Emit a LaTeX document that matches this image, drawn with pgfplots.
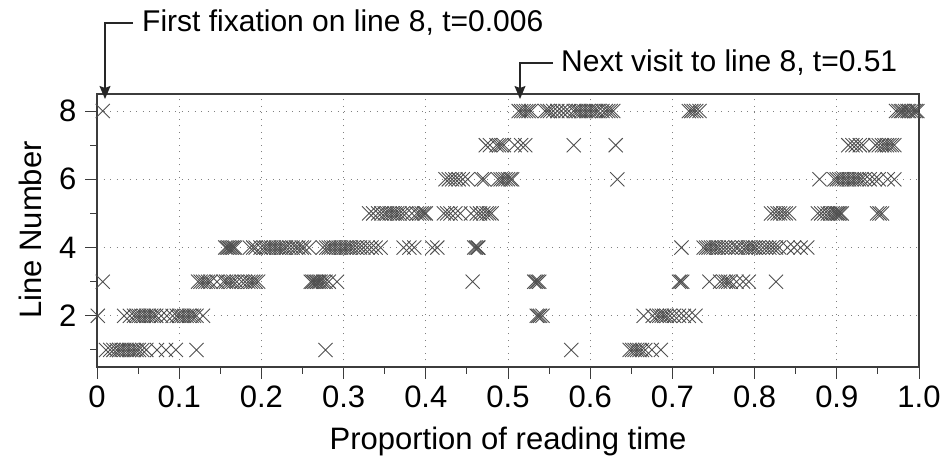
\documentclass[border=0pt]{standalone}
\usepackage{pgfplots}
\pgfplotsset{compat=1.18}
\usepackage{fontspec}
\setmainfont{Liberation Sans}
\usetikzlibrary{arrows.meta}
\definecolor{markgray}{RGB}{80,80,80}
\definecolor{axgray}{RGB}{60,60,60}
\begin{document}
\begin{tikzpicture}[x=1pt,y=1pt]
\begin{axis}[
  scale only axis,
  width=822pt, height=273pt,
  at={(97pt,99pt)}, anchor=south west,
  xmin=0, xmax=1, ymin=0.5, ymax=8.5,
  xtick={0,0.1,0.2,0.3,0.4,0.5,0.6,0.7,0.8,0.9,1.0},
  xticklabels={0,0.1,0.2,0.3,0.4,0.5,0.6,0.7,0.8,0.9,1.0},
  minor xtick={0.05,0.15,0.25,0.35,0.45,0.55,0.65,0.75,0.85,0.95},
  ytick={2,4,6,8},
  yticklabels={2,4,6,8},
  minor ytick={1,3,5,7},
  tick pos=left,
  tick align=outside,
  major tick length=12pt,
  minor tick length=7pt,
  every tick/.style={axgray, line width=1pt},
  xmajorgrids, ymajorgrids,
  major grid style={gray, line width=1pt, dash pattern=on 1pt off 5.5pt},
  axis line style={axgray, line width=1.2pt},
  ticklabel style={font=\fontsize{31}{35}\selectfont},
  xticklabel style={yshift=-3pt},
  yticklabel style={xshift=-5pt},
  clip=false,
]
\addplot[only marks, mark=x, mark size=10pt, color=markgray, mark options={line width=0.9pt}] table[row sep=\\] {
x y\\
0.007 8\\
0.513 8\\ 0.516 8\\ 0.519 8\\ 0.522 8\\ 0.525 8\\ 0.528 8\\ 0.545 8\\ 0.548 8\\ 0.551 8\\ 0.555 8\\ 0.560 8\\ 0.565 8\\ 0.570 8\\ 0.574 8\\ 0.580 8\\ 0.583 8\\ 0.586 8\\ 0.589 8\\ 0.592 8\\ 0.595 8\\ 0.598 8\\ 0.601 8\\ 0.604 8\\ 0.607 8\\ 0.610 8\\ 0.615 8\\ 0.619 8\\ 0.622 8\\ 0.625 8\\ 0.628 8\\
0.720 8\\ 0.723 8\\ 0.726 8\\ 0.729 8\\ 0.733 8\\
0.972 8\\ 0.975 8\\ 0.978 8\\ 0.980 8\\ 0.983 8\\ 0.986 8\\ 0.988 8\\ 0.991 8\\ 0.994 8\\ 0.996 8\\ 0.998 8\\
0.473 7\\ 0.478 7\\ 0.486 7\\ 0.489 7\\ 0.492 7\\ 0.495 7\\ 0.508 7\\ 0.516 7\\ 0.521 7\\
0.580 7\\ 0.631 7\\
0.914 7\\ 0.919 7\\ 0.923 7\\ 0.928 7\\ 0.932 7\\ 0.947 7\\ 0.951 7\\ 0.955 7\\ 0.958 7\\ 0.961 7\\ 0.964 7\\ 0.967 7\\ 0.970 7\\
0.424 6\\ 0.428 6\\ 0.432 6\\ 0.436 6\\ 0.440 6\\ 0.445 6\\ 0.451 6\\ 0.468 6\\ 0.471 6\\ 0.488 6\\ 0.491 6\\ 0.494 6\\ 0.497 6\\ 0.500 6\\ 0.503 6\\ 0.505 6\\
0.633 6\\
0.879 6\\ 0.897 6\\ 0.900 6\\ 0.903 6\\ 0.906 6\\ 0.909 6\\ 0.912 6\\ 0.915 6\\ 0.918 6\\ 0.921 6\\ 0.924 6\\ 0.927 6\\ 0.930 6\\ 0.934 6\\ 0.940 6\\ 0.946 6\\ 0.951 6\\ 0.962 6\\ 0.970 6\\
0.331 5\\ 0.336 5\\ 0.342 5\\ 0.346 5\\ 0.350 5\\ 0.353 5\\ 0.356 5\\ 0.359 5\\ 0.362 5\\ 0.365 5\\ 0.368 5\\ 0.372 5\\ 0.376 5\\ 0.383 5\\ 0.389 5\\ 0.392 5\\ 0.395 5\\ 0.398 5\\ 0.400 5\\
0.422 5\\ 0.426 5\\ 0.430 5\\ 0.436 5\\ 0.442 5\\ 0.455 5\\ 0.462 5\\ 0.466 5\\ 0.470 5\\ 0.474 5\\ 0.477 5\\ 0.480 5\\
0.820 5\\ 0.824 5\\ 0.828 5\\ 0.831 5\\ 0.835 5\\ 0.838 5\\ 0.842 5\\
0.877 5\\ 0.881 5\\ 0.885 5\\ 0.889 5\\ 0.892 5\\ 0.895 5\\ 0.898 5\\ 0.900 5\\ 0.902 5\\ 0.904 5\\ 0.906 5\\
0.949 5\\ 0.952 5\\ 0.955 5\\
0.156 4\\ 0.158 4\\ 0.160 4\\ 0.162 4\\ 0.164 4\\ 0.166 4\\ 0.168 4\\
0.186 4\\ 0.190 4\\ 0.193 4\\ 0.199 4\\ 0.203 4\\ 0.206 4\\ 0.209 4\\ 0.212 4\\ 0.215 4\\ 0.218 4\\ 0.221 4\\ 0.224 4\\ 0.227 4\\ 0.230 4\\ 0.234 4\\ 0.238 4\\ 0.242 4\\ 0.245 4\\ 0.249 4\\ 0.252 4\\ 0.258 4\\ 0.275 4\\ 0.279 4\\ 0.282 4\\ 0.285 4\\ 0.288 4\\ 0.291 4\\ 0.294 4\\ 0.297 4\\ 0.300 4\\ 0.303 4\\ 0.306 4\\ 0.309 4\\ 0.312 4\\ 0.316 4\\ 0.320 4\\ 0.324 4\\ 0.329 4\\ 0.334 4\\ 0.339 4\\ 0.345 4\\
0.373 4\\ 0.380 4\\ 0.386 4\\
0.408 4\\ 0.414 4\\
0.459 4\\ 0.461 4\\ 0.463 4\\ 0.464 4\\
0.711 4\\
0.738 4\\ 0.741 4\\ 0.744 4\\ 0.747 4\\ 0.750 4\\ 0.753 4\\ 0.756 4\\ 0.760 4\\ 0.764 4\\ 0.768 4\\ 0.772 4\\ 0.777 4\\ 0.780 4\\ 0.785 4\\ 0.789 4\\ 0.792 4\\ 0.795 4\\ 0.798 4\\ 0.801 4\\ 0.805 4\\ 0.810 4\\ 0.814 4\\ 0.818 4\\ 0.822 4\\ 0.826 4\\ 0.830 4\\ 0.840 4\\ 0.848 4\\ 0.856 4\\ 0.864 4\\
0.007 3\\
0.123 3\\ 0.126 3\\ 0.129 3\\ 0.132 3\\ 0.135 3\\ 0.138 3\\ 0.146 3\\ 0.154 3\\ 0.157 3\\ 0.160 3\\ 0.163 3\\ 0.166 3\\ 0.170 3\\ 0.176 3\\ 0.180 3\\ 0.184 3\\ 0.187 3\\ 0.190 3\\ 0.193 3\\ 0.196 3\\
0.260 3\\ 0.262 3\\ 0.264 3\\ 0.266 3\\ 0.268 3\\ 0.270 3\\ 0.272 3\\ 0.275 3\\ 0.278 3\\ 0.282 3\\ 0.292 3\\
0.457 3\\
0.532 3\\ 0.534 3\\ 0.536 3\\ 0.538 3\\
0.708 3\\ 0.710 3\\ 0.712 3\\
0.745 3\\ 0.758 3\\ 0.762 3\\ 0.765 3\\ 0.768 3\\ 0.771 3\\ 0.778 3\\ 0.786 3\\ 0.793 3\\
0.826 3\\
0.001 2\\
0.033 2\\ 0.040 2\\ 0.045 2\\ 0.048 2\\ 0.051 2\\ 0.054 2\\ 0.057 2\\ 0.060 2\\ 0.063 2\\ 0.066 2\\ 0.069 2\\ 0.072 2\\ 0.078 2\\ 0.085 2\\ 0.092 2\\ 0.097 2\\ 0.100 2\\ 0.103 2\\ 0.106 2\\ 0.109 2\\ 0.112 2\\ 0.115 2\\ 0.118 2\\ 0.121 2\\ 0.129 2\\
0.535 2\\ 0.537 2\\ 0.539 2\\ 0.542 2\\
0.665 2\\ 0.676 2\\ 0.681 2\\ 0.684 2\\ 0.687 2\\ 0.690 2\\ 0.693 2\\ 0.697 2\\ 0.702 2\\ 0.708 2\\ 0.714 2\\ 0.720 2\\ 0.728 2\\
0.011 1\\ 0.016 1\\ 0.020 1\\ 0.024 1\\ 0.027 1\\ 0.030 1\\ 0.033 1\\ 0.036 1\\ 0.039 1\\ 0.042 1\\ 0.045 1\\ 0.048 1\\ 0.051 1\\ 0.055 1\\ 0.060 1\\ 0.073 1\\ 0.084 1\\ 0.096 1\\
0.121 1\\ 0.278 1\\ 0.577 1\\
0.648 1\\ 0.651 1\\ 0.654 1\\ 0.657 1\\ 0.660 1\\ 0.663 1\\ 0.667 1\\ 0.675 1\\ 0.686 1\\
};
\end{axis}
\node[rotate=90, font=\fontsize{31}{35}\selectfont] at (30,236) {Line Number};
\node[font=\fontsize{31}{35}\selectfont] at (508,25) {Proportion of reading time};
\node[anchor=west, font=\fontsize{30}{34}\selectfont, inner sep=0pt] at (142,443) {First fixation on line 8, t=0.006};
\draw[black!85, line width=1.2pt, -{Stealth[length=13pt,width=11pt,inset=2pt]}] (133,443) -- (105,443) -- (105,367);
\node[anchor=west, font=\fontsize{30}{34}\selectfont, inner sep=0pt] at (561,403) {Next visit to line 8, t=0.51};
\draw[black!85, line width=1.2pt, -{Stealth[length=13pt,width=11pt,inset=2pt]}] (553,403) -- (520,403) -- (520,367);
\pgfresetboundingbox
\useasboundingbox (0,0) rectangle (943,466);
\end{tikzpicture}
\end{document}
